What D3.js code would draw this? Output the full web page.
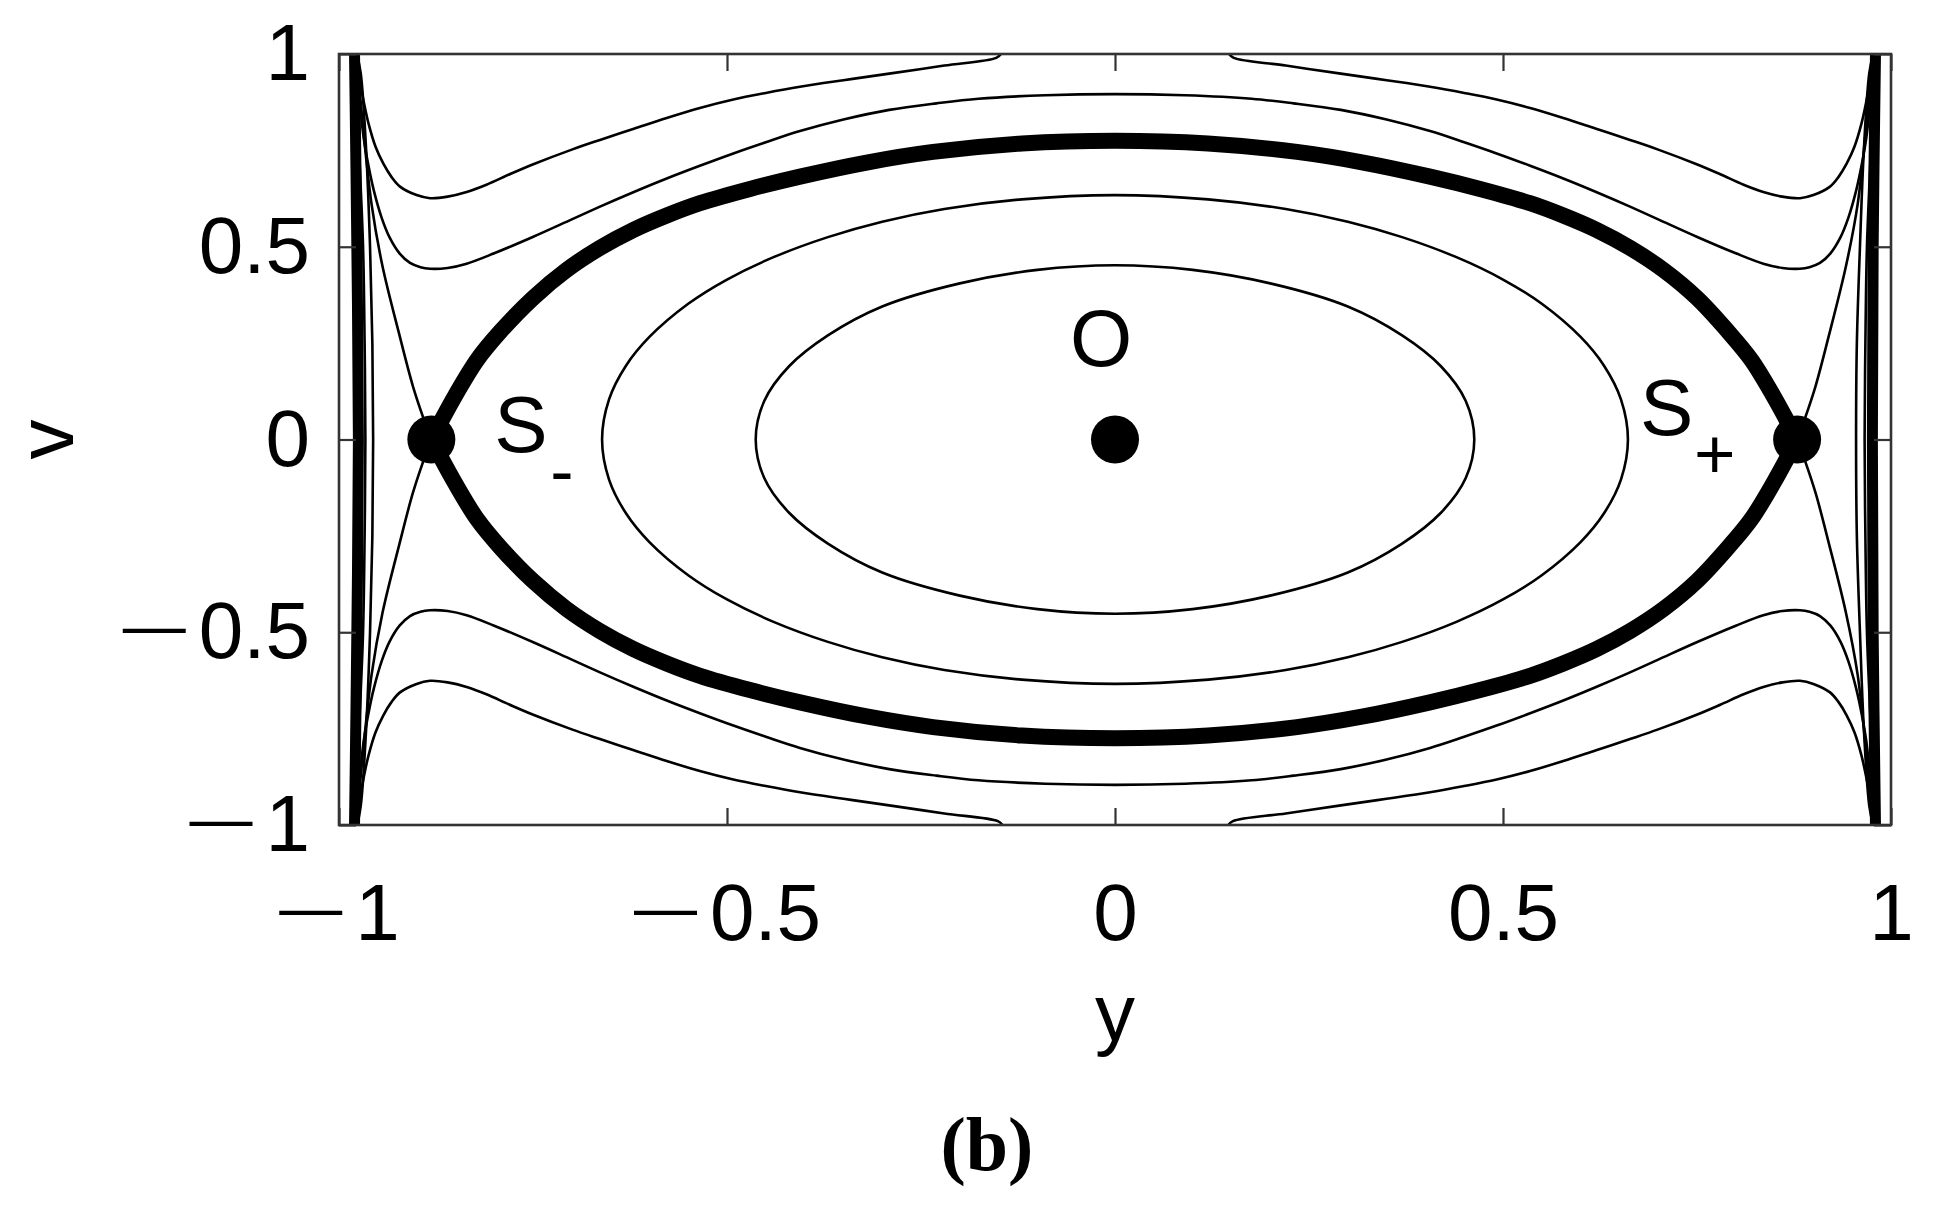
<!DOCTYPE html>
<html><head><meta charset="utf-8">
<script src="https://cdn.jsdelivr.net/npm/d3@7/dist/d3.min.js"></script>
<style>body{margin:0;background:#fff}</style>
</head><body>
<svg id="chart" width="1934" height="1208"></svg>
<script>
// ---- axis data ----
const xTicks = [-1, -0.5, 0, 0.5, 1];
const xTickLabels = ["\u20141", "\u20140.5", "0", "0.5", "1"];
const vTicks = [-1, -0.5, 0, 0.5, 1];
const vTickLabels = ["\u20141", "\u20140.5", "0", "0.5", "1"];
const xLabel = "y", vLabel = "v", panelLabel = "(b)";

// ---- equilibria ----
const equilibria = [
  {name: "S", sub: "-", y: -0.881, v: 0},
  {name: "O", sub: "",  y: 0,      v: 0},
  {name: "S", sub: "+", y: 0.879,  v: 0}
];

// ---- closed orbits (y, v) ----
const innerOrbit = [[-0.463,0],[-0.452,0.1],[-0.42,0.19],[-0.37,0.27],[-0.3,0.345],[-0.2,0.405],[-0.1,0.44],[0,0.452],[0.1,0.44],[0.2,0.405],[0.3,0.345],[0.37,0.27],[0.42,0.19],[0.452,0.1],[0.463,0],[0.452,-0.1],[0.42,-0.19],[0.37,-0.27],[0.3,-0.345],[0.2,-0.405],[0.1,-0.44],[0,-0.452],[-0.1,-0.44],[-0.2,-0.405],[-0.3,-0.345],[-0.37,-0.27],[-0.42,-0.19],[-0.452,-0.1]];
const middleOrbit = [[-0.661,0],[-0.652,0.104],[-0.63,0.192],[-0.6,0.266],[-0.55,0.352],[-0.5,0.415],[-0.44,0.473],[-0.37,0.525],[-0.3,0.565],[-0.22,0.598],[-0.12,0.623],[0,0.634],[0.12,0.623],[0.22,0.598],[0.3,0.565],[0.37,0.525],[0.44,0.473],[0.5,0.415],[0.55,0.352],[0.6,0.266],[0.63,0.192],[0.652,0.104],[0.661,0],[0.652,-0.104],[0.63,-0.192],[0.6,-0.266],[0.55,-0.352],[0.5,-0.415],[0.44,-0.473],[0.37,-0.525],[0.3,-0.565],[0.22,-0.598],[0.12,-0.623],[0,-0.634],[-0.12,-0.623],[-0.22,-0.598],[-0.3,-0.565],[-0.37,-0.525],[-0.44,-0.473],[-0.5,-0.415],[-0.55,-0.352],[-0.6,-0.266],[-0.63,-0.192],[-0.652,-0.104]];

// ---- separatrix (thick) ----
const separatrixUpper = [[-0.881,0],[-0.8505,0.113],[-0.8222,0.206],[-0.7925,0.279],[-0.75,0.367],[-0.7066,0.44],[-0.6637,0.497],[-0.6207,0.5435],[-0.5777,0.581],[-0.5348,0.613],[-0.4704,0.65],[-0.4059,0.682],[-0.32,0.7185],[-0.2345,0.746],[-0.1198,0.768],[0,0.775],[0.1198,0.768],[0.2345,0.746],[0.32,0.7185],[0.4059,0.682],[0.4704,0.65],[0.5348,0.613],[0.5777,0.581],[0.6207,0.5435],[0.6637,0.497],[0.7066,0.44],[0.75,0.367],[0.7905,0.279],[0.8202,0.206],[0.8485,0.113],[0.879,0]];
const separatrixLower = [[-0.881,0],[-0.8505,-0.113],[-0.8222,-0.206],[-0.7925,-0.279],[-0.75,-0.367],[-0.7066,-0.44],[-0.6637,-0.497],[-0.6207,-0.5435],[-0.5777,-0.581],[-0.5348,-0.613],[-0.4704,-0.65],[-0.4059,-0.682],[-0.32,-0.7185],[-0.2345,-0.746],[-0.1198,-0.768],[0,-0.775],[0.1198,-0.768],[0.2345,-0.746],[0.32,-0.7185],[0.4059,-0.682],[0.4704,-0.65],[0.5348,-0.613],[0.5777,-0.581],[0.6207,-0.5435],[0.6637,-0.497],[0.7066,-0.44],[0.75,-0.367],[0.7905,-0.279],[0.8202,-0.206],[0.8485,-0.113],[0.879,0]];

// ---- separatrix outer branches (thin) ----
const branchTL = [[-0.881,0],[-0.892,0.06],[-0.905,0.14],[-0.922,0.27],[-0.944,0.45],[-0.958,0.61],[-0.969,0.81],[-0.975,0.94],[-0.978,1.0]];
const branchBL = [[-0.881,0],[-0.892,-0.06],[-0.905,-0.14],[-0.922,-0.27],[-0.944,-0.45],[-0.958,-0.61],[-0.969,-0.81],[-0.975,-0.94],[-0.978,-1.0]];
const branchTR = [[0.879,0],[0.89,0.06],[0.903,0.14],[0.92,0.27],[0.942,0.45],[0.957,0.61],[0.968,0.81],[0.974,0.94],[0.977,1.0]];
const branchBR = [[0.879,0],[0.89,-0.06],[0.903,-0.14],[0.92,-0.27],[0.942,-0.45],[0.957,-0.61],[0.968,-0.81],[0.974,-0.94],[0.977,-1.0]];

// ---- outermost open orbits (leave through top / bottom) ----
const outerTopL = [[-0.978,1.0],[-0.973,0.93],[-0.968,0.875],[-0.962,0.82],[-0.953,0.76],[-0.943,0.716],[-0.932,0.68],[-0.9214,0.656],[-0.9,0.634],[-0.8827,0.626],[-0.86,0.63],[-0.8355,0.642],[-0.81,0.661],[-0.78,0.688],[-0.7496,0.714],[-0.7,0.752],[-0.6637,0.777],[-0.62,0.806],[-0.5777,0.834],[-0.535,0.86],[-0.4918,0.882],[-0.45,0.899],[-0.406,0.915],[-0.35,0.932],[-0.291,0.949],[-0.22,0.97],[-0.153,0.99],[-0.147,1.0]];
const outerTopR = [[0.147,1.0],[0.153,0.99],[0.22,0.97],[0.291,0.949],[0.35,0.932],[0.406,0.915],[0.45,0.899],[0.4918,0.882],[0.535,0.86],[0.5777,0.834],[0.62,0.806],[0.6637,0.777],[0.7,0.752],[0.7496,0.714],[0.78,0.688],[0.81,0.661],[0.8355,0.642],[0.86,0.63],[0.8827,0.626],[0.9,0.634],[0.9214,0.656],[0.932,0.68],[0.943,0.716],[0.953,0.76],[0.962,0.82],[0.968,0.875],[0.973,0.93],[0.978,1.0]];
const outerBotL = [[-0.978,-1.0],[-0.973,-0.93],[-0.968,-0.875],[-0.962,-0.82],[-0.953,-0.76],[-0.943,-0.716],[-0.932,-0.68],[-0.9214,-0.656],[-0.9,-0.634],[-0.8827,-0.626],[-0.86,-0.63],[-0.8355,-0.642],[-0.81,-0.661],[-0.78,-0.688],[-0.7496,-0.714],[-0.7,-0.752],[-0.6637,-0.777],[-0.62,-0.806],[-0.5777,-0.834],[-0.535,-0.86],[-0.4918,-0.882],[-0.45,-0.899],[-0.406,-0.915],[-0.35,-0.932],[-0.291,-0.949],[-0.22,-0.97],[-0.151,-0.99],[-0.145,-1.0]];
const outerBotR = [[0.146,-1.0],[0.152,-0.99],[0.22,-0.97],[0.291,-0.949],[0.35,-0.932],[0.406,-0.915],[0.45,-0.899],[0.4918,-0.882],[0.535,-0.86],[0.5777,-0.834],[0.62,-0.806],[0.6637,-0.777],[0.7,-0.752],[0.7496,-0.714],[0.78,-0.688],[0.81,-0.661],[0.8355,-0.642],[0.86,-0.63],[0.8827,-0.626],[0.9,-0.634],[0.9214,-0.656],[0.932,-0.68],[0.943,-0.716],[0.953,-0.76],[0.962,-0.82],[0.968,-0.875],[0.973,-0.93],[0.978,-1.0]];

// ---- second open orbits (corner to corner) ----
const secondTop = [[-0.977,1.0],[-0.975,0.92],[-0.972,0.85],[-0.968,0.78],[-0.962,0.71],[-0.955,0.645],[-0.945,0.575],[-0.935,0.525],[-0.922,0.483],[-0.9085,0.458],[-0.895,0.447],[-0.8827,0.443],[-0.86,0.445],[-0.8355,0.456],[-0.8,0.483],[-0.7496,0.526],[-0.7,0.571],[-0.6637,0.604],[-0.62,0.642],[-0.5777,0.677],[-0.535,0.71],[-0.4918,0.742],[-0.45,0.771],[-0.406,0.8],[-0.35,0.83],[-0.291,0.855],[-0.23,0.872],[-0.176,0.884],[-0.09,0.893],[0,0.896],[0.09,0.893],[0.176,0.884],[0.23,0.872],[0.291,0.855],[0.35,0.83],[0.406,0.8],[0.45,0.771],[0.4918,0.742],[0.535,0.71],[0.5777,0.677],[0.62,0.642],[0.6637,0.604],[0.7,0.571],[0.7496,0.526],[0.8,0.483],[0.8355,0.456],[0.86,0.445],[0.8827,0.443],[0.895,0.447],[0.9085,0.458],[0.922,0.483],[0.935,0.525],[0.945,0.575],[0.955,0.645],[0.962,0.71],[0.968,0.78],[0.972,0.85],[0.975,0.92],[0.977,1.0]];
const secondBot = [[-0.977,-1.0],[-0.975,-0.92],[-0.972,-0.85],[-0.968,-0.78],[-0.962,-0.71],[-0.955,-0.645],[-0.945,-0.575],[-0.935,-0.525],[-0.922,-0.483],[-0.9085,-0.458],[-0.895,-0.447],[-0.8827,-0.443],[-0.86,-0.445],[-0.8355,-0.456],[-0.8,-0.483],[-0.7496,-0.526],[-0.7,-0.571],[-0.6637,-0.604],[-0.62,-0.642],[-0.5777,-0.677],[-0.535,-0.71],[-0.4918,-0.742],[-0.45,-0.771],[-0.406,-0.8],[-0.35,-0.83],[-0.291,-0.855],[-0.23,-0.872],[-0.176,-0.884],[-0.09,-0.893],[0,-0.896],[0.09,-0.893],[0.176,-0.884],[0.23,-0.872],[0.291,-0.855],[0.35,-0.83],[0.406,-0.8],[0.45,-0.771],[0.4918,-0.742],[0.535,-0.71],[0.5777,-0.677],[0.62,-0.642],[0.6637,-0.604],[0.7,-0.571],[0.7496,-0.526],[0.8,-0.483],[0.8355,-0.456],[0.86,-0.445],[0.8827,-0.443],[0.895,-0.447],[0.9085,-0.458],[0.922,-0.483],[0.935,-0.525],[0.945,-0.575],[0.955,-0.645],[0.962,-0.71],[0.968,-0.78],[0.972,-0.85],[0.975,-0.92],[0.977,-1.0]];

// ---- orbits hugging y = +-1 ----
const edgeL1 = [[-0.977,1.0],[-0.972,0.95],[-0.965,0.75],[-0.96,0.5],[-0.957,0.25],[-0.956,0],[-0.957,-0.25],[-0.96,-0.5],[-0.965,-0.75],[-0.972,-0.95],[-0.977,-1.0]];
const edgeL2 = [[-0.978,1.0],[-0.974,0.75],[-0.969,0.5],[-0.967,0.25],[-0.966,0],[-0.967,-0.25],[-0.969,-0.5],[-0.974,-0.75],[-0.978,-1.0]];
const edgeR1 = [[0.977,1.0],[0.972,0.95],[0.965,0.75],[0.96,0.5],[0.956,0.25],[0.955,0],[0.956,-0.25],[0.96,-0.5],[0.965,-0.75],[0.972,-0.95],[0.977,-1.0]];
const edgeR2 = [[0.978,1.0],[0.974,0.75],[0.969,0.5],[0.967,0.25],[0.966,0],[0.967,-0.25],[0.969,-0.5],[0.974,-0.75],[0.978,-1.0]];
const bandL = [[-0.98,1.0],[-0.977,0.5],[-0.975,0],[-0.977,-0.5],[-0.98,-1.0]];
const bandR = [[0.98,1.0],[0.977,0.5],[0.976,0],[0.977,-0.5],[0.98,-1.0]];

// ---- drawing ----
const svg = d3.select("#chart");
const L = 339, R = 1891, T = 54, B = 825;
const x = d3.scaleLinear().domain([-1, 1]).range([L, R]);
const y = d3.scaleLinear().domain([-1, 1]).range([B, T]);
const FONT = "'Liberation Sans', Arial, Helvetica, sans-serif";
const FS = 80;

svg.append("defs").append("clipPath").attr("id", "plotclip")
  .append("rect").attr("x", L).attr("y", T).attr("width", R - L).attr("height", B - T);

const line = d3.line().x(d => x(d[0])).y(d => y(d[1])).curve(d3.curveCatmullRom.alpha(0.5));
const closedLine = d3.line().x(d => x(d[0])).y(d => y(d[1])).curve(d3.curveCatmullRomClosed.alpha(0.5));

const plot = svg.append("g").attr("clip-path", "url(#plotclip)");

const thin = [branchTL, branchBL, branchTR, branchBR, outerTopL, outerTopR, outerBotL, outerBotR,
              secondTop, secondBot, edgeL1, edgeL2, edgeR1, edgeR2];
plot.selectAll("path.thin").data(thin).join("path").attr("class", "thin")
  .attr("d", line).attr("fill", "none").attr("stroke", "#000").attr("stroke-width", 2.6);
plot.selectAll("path.closed").data([innerOrbit, middleOrbit]).join("path").attr("class", "closed")
  .attr("d", closedLine).attr("fill", "none").attr("stroke", "#000").attr("stroke-width", 2.6);
plot.selectAll("path.band").data([bandL, bandR]).join("path").attr("class", "band")
  .attr("d", line).attr("fill", "none").attr("stroke", "#000").attr("stroke-width", 11);
plot.selectAll("path.sep").data([separatrixUpper, separatrixLower]).join("path").attr("class", "sep")
  .attr("d", line).attr("fill", "none").attr("stroke", "#000").attr("stroke-width", 16).attr("stroke-linecap", "round");

plot.selectAll("circle.eq").data(equilibria).join("circle").attr("class", "eq")
  .attr("cx", d => x(d.y)).attr("cy", d => y(d.v)).attr("r", 24).attr("fill", "#000");

// equilibrium labels
const lab = svg.append("g").attr("font-family", FONT).attr("fill", "#000");
lab.append("text").attr("x", x(equilibria[1].y) - 14).attr("y", y(0) - 74)
  .attr("text-anchor", "middle").attr("font-size", FS).text(equilibria[1].name);
lab.append("text").attr("x", x(equilibria[0].y) + 63).attr("y", y(0) + 12)
  .attr("font-size", FS).text(equilibria[0].name);
lab.append("text").attr("x", x(equilibria[0].y) + 119).attr("y", y(0) + 55)
  .attr("font-size", 70).text(equilibria[0].sub);
lab.append("text").attr("x", x(equilibria[2].y) - 157).attr("y", y(0) - 5)
  .attr("font-size", FS).text(equilibria[2].name);
lab.append("text").attr("x", x(equilibria[2].y) - 103).attr("y", y(0) + 38)
  .attr("font-size", 71).text(equilibria[2].sub);

// axes
function styleAxis(g) {
  g.select(".domain").remove();
  g.attr("font-family", FONT).attr("font-size", FS);
  g.selectAll(".tick line").attr("stroke", "#333").attr("stroke-width", 2.2);
  g.selectAll(".tick text").attr("fill", "#000");
}
// MATLAB-style long minus: shorter dash raised to the digits' centre, small gap
function dashLabels(g) {
  g.selectAll(".tick text").each(function() {
    const t = d3.select(this);
    const s = t.text();
    if (s.startsWith("\u2014")) {
      const base = (parseFloat(t.attr("dy")) || 0) * FS;
      t.attr("dy", null).text(null);
      t.append("tspan").attr("font-size", 63).attr("dy", base - 11).text("\u2014");
      t.append("tspan").attr("dy", 11).attr("dx", 13).text(s.slice(1));
    }
  });
}
svg.append("g").attr("transform", `translate(0,${B})`)
  .call(d3.axisBottom(x).tickValues(xTicks).tickFormat((d, i) => xTickLabels[i]).tickSizeInner(-17).tickSizeOuter(0).tickPadding(58))
  .call(styleAxis).call(dashLabels);
svg.append("g").attr("transform", `translate(0,${T})`)
  .call(d3.axisTop(x).tickValues(xTicks).tickFormat("").tickSizeInner(-17).tickSizeOuter(0))
  .call(styleAxis);
svg.append("g").attr("transform", `translate(${L},0)`)
  .call(d3.axisLeft(y).tickValues(vTicks).tickFormat((d, i) => vTickLabels[i]).tickSizeInner(-17).tickSizeOuter(0).tickPadding(29))
  .call(styleAxis).call(dashLabels);
svg.append("g").attr("transform", `translate(${R},0)`)
  .call(d3.axisRight(y).tickValues(vTicks).tickFormat("").tickSizeInner(-17).tickSizeOuter(0))
  .call(styleAxis);

svg.append("rect").attr("x", L).attr("y", T).attr("width", R - L).attr("height", B - T)
  .attr("fill", "none").attr("stroke", "#333").attr("stroke-width", 2.6);

// axis titles
svg.append("text").attr("x", (L + R) / 2).attr("y", 1040).attr("text-anchor", "middle")
  .attr("font-family", FONT).attr("font-size", FS).attr("fill", "#000").text(xLabel);
svg.append("text").attr("transform", `translate(73,${(T + B) / 2}) rotate(-90)`).attr("text-anchor", "middle")
  .attr("font-family", FONT).attr("font-size", FS).attr("fill", "#000").text(vLabel);
svg.append("text").attr("x", 987).attr("y", 1170).attr("text-anchor", "middle")
  .attr("font-family", "'Liberation Serif', 'Times New Roman', serif").attr("font-weight", "bold")
  .attr("font-size", 76).attr("fill", "#000").text(panelLabel);
</script>
</body></html>
